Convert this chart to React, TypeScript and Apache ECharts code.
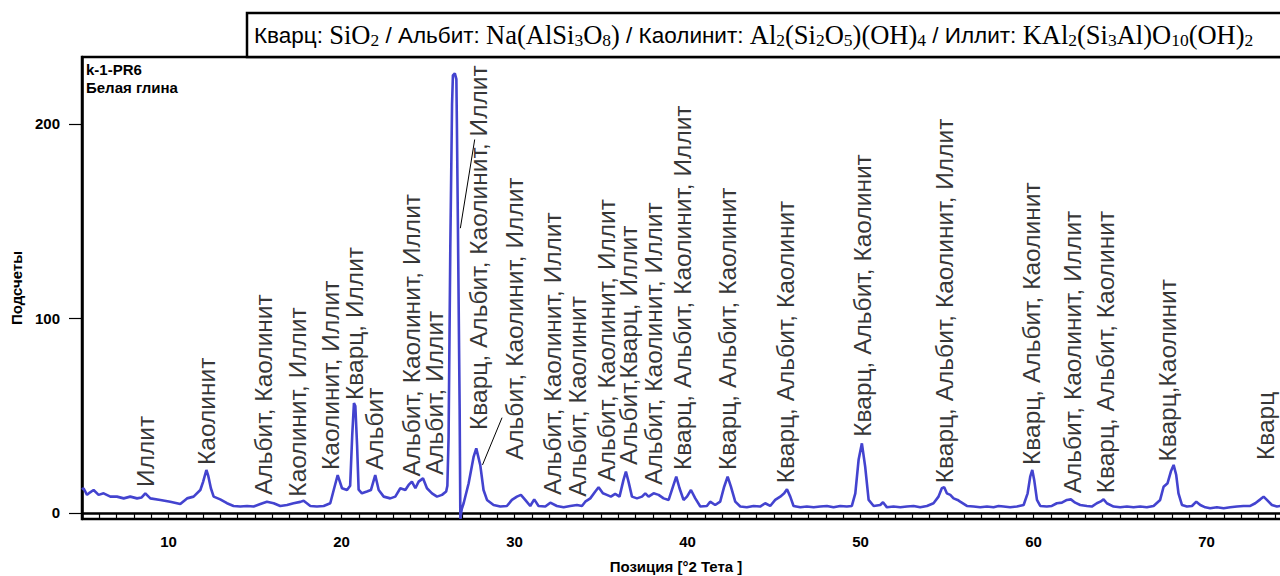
import React, { useEffect, useRef } from "react";
import * as echarts from "echarts";

// Diffractogram: position (°2θ) and counts
const twoTheta = [
  5.0, 5.09, 5.29, 5.45, 5.67, 5.96, 6.25, 6.64, 7.02, 7.41, 7.79, 8.18, 8.45, 8.66, 8.95, 9.53, 10.1, 10.68,
  11.07, 11.45, 11.84, 12.0, 12.19, 12.3, 12.45, 12.61, 12.99, 13.38, 13.76, 14.15, 14.54, 14.92, 15.31, 15.69,
  16.08, 16.46, 16.85, 17.23, 17.62, 17.81, 18.2, 18.58, 18.97, 19.35, 19.55, 19.78, 20.03, 20.32, 20.5, 20.62,
  20.72, 20.8, 20.9, 20.99, 21.18, 21.47, 21.7, 21.95, 22.15, 22.44, 22.82, 23.11, 23.4, 23.69, 23.88, 24.07,
  24.27, 24.46, 24.71, 24.94, 25.23, 25.52, 25.81, 26.05, 26.12, 26.19, 26.29, 26.39, 26.44, 26.55, 26.64, 26.67,
  26.73, 26.83, 26.87, 26.95, 27.06, 27.35, 27.64, 27.79, 28.02, 28.21, 28.41, 28.79, 29.18, 29.56, 29.85, 30.14,
  30.37, 30.62, 30.91, 31.14, 31.39, 31.78, 32.07, 32.45, 32.84, 33.22, 33.61, 33.9, 34.09, 34.38, 34.67, 34.86,
  35.11, 35.34, 35.57, 35.82, 36.07, 36.3, 36.44, 36.59, 36.79, 37.08, 37.37, 37.56, 37.75, 38.04, 38.33, 38.62,
  38.91, 39.16, 39.35, 39.54, 39.77, 39.97, 40.2, 40.45, 40.74, 41.12, 41.31, 41.6, 41.89, 42.12, 42.32, 42.51,
  42.76, 43.05, 43.43, 43.82, 44.2, 44.49, 44.78, 45.07, 45.36, 45.59, 45.75, 45.94, 46.13, 46.52, 46.9, 47.29,
  47.67, 48.06, 48.44, 48.83, 49.21, 49.5, 49.7, 49.89, 50.08, 50.27, 50.47, 50.76, 51.14, 51.3, 51.53, 51.91,
  52.3, 52.68, 53.07, 53.45, 53.84, 54.22, 54.51, 54.7, 54.84, 54.99, 55.19, 55.38, 55.61, 55.76, 56.15, 56.54,
  56.92, 57.31, 57.69, 57.98, 58.27, 58.65, 59.04, 59.43, 59.66, 59.81, 59.93, 60.04, 60.2, 60.39, 60.77, 61.06,
  61.35, 61.64, 61.93, 62.16, 62.41, 62.7, 63.09, 63.37, 63.66, 63.86, 64.05, 64.24, 64.63, 65.01, 65.4, 65.78,
  66.17, 66.55, 66.94, 67.32, 67.52, 67.75, 67.94, 68.1, 68.25, 68.38, 68.58, 68.87, 69.16, 69.41, 69.64, 69.93,
  70.21, 70.6, 70.99, 71.37, 71.76, 72.14, 72.53, 72.82, 73.11, 73.3, 73.49, 73.78, 74.07, 74.26, 74.6, 75.0,
];
const counts = [
  12, 12.7, 9.3, 10.5, 11.8, 9.3, 10.1, 8.4, 8.4, 7.5, 8.4, 7.5, 8.0, 10.1, 7.5, 6.7, 5.8, 4.6,
  7.5, 8.4, 11.8, 16, 22.1, 19, 12.7, 8.4, 7.0, 5.0, 3.6, 3.3, 3.6, 3.3, 4.6, 5.8,
  5.0, 3.6, 4.1, 5.0, 5.7, 6.3, 3.6, 3.3, 3.6, 5.0, 11.8, 19.5, 12.7, 11.8, 14, 40,
  56.5, 55, 35, 12, 10.1, 11.0, 11.8, 19.5, 11.8, 8.4, 7.5, 8.4, 12.7, 11.8, 14.4, 16.1,
  12.7, 16.1, 17.8, 12.7, 10.1, 8.4, 9.3, 11.0, 14, 39, 137, 210, 225, 226, 223, 200,
  147, 53, -3, 2, 5.0, 15.3, 29.0, 33.2, 24.7, 11.8, 6.7, 4.1, 3.3, 3.6, 6.7, 8.4,
  9.3, 6.7, 3.6, 7.0, 3.6, 3.3, 5.3, 3.6, 2.9, 3.6, 4.1, 3.6, 5.8, 7.5, 11.0, 13.2,
  10.1, 9.3, 8.4, 9.8, 8.4, 17.0, 21.3, 16.1, 8.4, 7.5, 8.4, 10.1, 8.4, 10.1, 9.3, 7.5,
  6.7, 13.5, 18.7, 12.7, 6.7, 8.4, 11.8, 7.5, 3.3, 3.6, 5.8, 4.1, 5.8, 13.5, 18.7, 13.5,
  5.8, 3.3, 2.9, 3.6, 3.3, 5.0, 3.6, 6.7, 8.4, 10.1, 12.2, 8.4, 3.6, 2.9, 3.3, 2.9,
  3.3, 3.6, 2.9, 3.6, 3.3, 3.6, 10.1, 27.3, 35.8, 23.8, 6.7, 3.6, 4.1, 5.5, 2.9, 3.3,
  2.9, 3.3, 3.6, 2.9, 3.6, 5.0, 8.4, 12.7, 13.2, 10.1, 9.3, 7.5, 6.7, 5.8, 3.6, 3.3,
  2.9, 3.3, 2.9, 3.6, 3.3, 2.9, 3.3, 4.1, 10.1, 18.7, 22.1, 17.0, 6.7, 3.6, 3.3, 3.6,
  5.0, 5.3, 6.7, 7.0, 5.3, 4.1, 3.6, 3.3, 5.0, 5.8, 7.0, 5.0, 3.3, 2.9, 3.3, 2.9,
  3.3, 2.9, 3.6, 6.7, 13.5, 15.3, 21.3, 24.7, 19.5, 10.1, 4.1, 3.3, 3.6, 5.8, 4.1, 2.9,
  2.4, 2.9, 2.4, 2.9, 3.3, 3.6, 3.6, 5.0, 7.0, 8.4, 6.7, 4.1, 3.3, 3.6, 3.3, 3.5,
];

// Peak annotations: position (°2θ), counts where the text starts, text
const labelPositions = [
  8.66, 12.19, 15.5, 17.43, 19.35, 20.74, 21.91, 24.02, 25.36, 27.92, 29.99, 32.2, 33.65,
  35.29, 36.6, 38.04, 39.72, 42.32, 45.69, 50.12, 54.84, 59.91, 62.23, 64.15, 67.75, 73.4,
];
const labelBases = [
  13.4, 24.7, 9.3, 8.4, 22.1, 58.1, 22.1, 18.7, 19.5, 42.7, 27.2, 9.3, 8.4,
  16.1, 24.7, 14.4, 22.1, 22.1, 15.3, 39.2, 15.3, 24.7, 10.1, 10.1, 26.4, 27.2,
];
const labelTexts = [
  "Иллит",
  "Каолинит",
  "Альбит, Каолинит",
  "Каолинит, Иллит",
  "Каолинит, Иллит",
  "Кварц, Иллит",
  "Альбит",
  "Альбит, Каолинит, Иллит",
  "Альбит, Иллит",
  "Кварц, Альбит, Каолинит, Иллит",
  "Альбит, Каолинит, Иллит",
  "Альбит, Каолинит, Иллит",
  "Альбит, Каолинит",
  "Альбит, Каолинит, Иллит",
  "Альбит,Кварц, Иллит",
  "Альбит, Каолинит, Иллит",
  "Кварц, Альбит, Каолинит, Иллит",
  "Кварц, Альбит, Каолинит",
  "Кварц, Альбит, Каолинит",
  "Кварц, Альбит, Каолинит",
  "Кварц, Альбит, Каолинит, Иллит",
  "Кварц, Альбит, Каолинит",
  "Альбит, Каолинит, Иллит",
  "Кварц, Альбит, Каолинит",
  "Кварц,Каолинит",
  "Кварц",
];

// Leader lines (from peak to label), in data coordinates
const leaderA = [[26.87, 146.4], [27.7, 192]];
const leaderB = [[28.15, 24.7], [29.28, 49]];

const xTickLabels = [10, 20, 30, 40, 50, 60, 70];
const yTickLabels = [0, 100, 200];

const SANS = "'Liberation Sans', Arial, sans-serif";
const SERIF = "'Liberation Serif', 'Times New Roman', serif";

export default function App() {
  const ref = useRef<HTMLDivElement>(null);

  useEffect(() => {
    if (!ref.current) return;
    const chart = echarts.init(ref.current, undefined, { renderer: "svg" });

    const legendText =
      "{n|Кварц: }{f|SiO}{s|2}{n| / Альбит: }{f|Na(AlSi}{s|3}{f|O}{s|8}{f|)}" +
      "{n| / Каолинит: }{f|Al}{s|2}{f|(Si}{s|2}{f|O}{s|5}{f|)(OH)}{s|4}" +
      "{n| / Иллит: }{f|KAl}{s|2}{f|(Si}{s|3}{f|Al)O}{s|10}{f|(OH)}{s|2}";

    chart.setOption({
      animation: false,
      backgroundColor: "#ffffff",
      grid: {
        left: 82,
        top: 57,
        right: 7,
        bottom: 57,
        show: true,
        borderColor: "#000",
        borderWidth: 2.5,
        backgroundColor: "transparent",
      },
      xAxis: {
        type: "value",
        min: 5,
        max: 75,
        interval: 1,
        axisLine: { show: true, lineStyle: { color: "#000", width: 2.5 } },
        axisTick: { show: true, inside: false, length: 7, lineStyle: { color: "#000", width: 1.2 } },
        axisLabel: {
          interval: 0,
          formatter: (v: number) =>
            Math.abs(v - Math.round(v)) < 1e-6 && xTickLabels.includes(Math.round(v)) ? String(Math.round(v)) : "",
          color: "#000",
          fontWeight: "bold",
          fontSize: 15,
          fontFamily: SANS,
          margin: 15,
          showMinLabel: true,
          showMaxLabel: true,
        },
        splitLine: { show: false },
      },
      yAxis: {
        type: "value",
        min: -3.1,
        max: 234.4,
        name: "Подсчеты",
        nameLocation: "middle",
        nameRotate: 90,
        nameGap: 58,
        nameTextStyle: { color: "#000", fontWeight: "bold", fontSize: 15, fontFamily: SANS },
        axisLine: { show: true, lineStyle: { color: "#000", width: 2.5 } },
        axisTick: {
          show: true,
          inside: false,
          length: 13,
          customValues: yTickLabels,
          lineStyle: { color: "#000", width: 1.2 },
        },
        axisLabel: {
          customValues: yTickLabels,
          color: "#000",
          fontWeight: "bold",
          fontSize: 15,
          fontFamily: SANS,
          margin: 22,
        },
        splitLine: { show: false },
      },
      series: [
        {
          type: "line",
          data: twoTheta.map((x, i) => [x, counts[i]]),
          showSymbol: false,
          symbol: "none",
          lineStyle: { color: "#4343cf", width: 2.6 },
          z: 2,
          clip: true,
        },
        {
          type: "line",
          data: leaderA,
          symbol: "none",
          lineStyle: { color: "#000", width: 1 },
          z: 3,
        },
        {
          type: "line",
          data: leaderB,
          symbol: "none",
          lineStyle: { color: "#000", width: 1 },
          z: 3,
        },
        {
          type: "scatter",
          symbolSize: 0,
          data: labelPositions.map((x, i) => [x, labelBases[i]]),
          z: 4,
          label: {
            show: true,
            position: "inside",
            rotate: 90,
            align: "left",
            verticalAlign: "middle",
            formatter: (p: any) => labelTexts[p.dataIndex],
            color: "#000",
            fontSize: 24.5,
            fontFamily: SANS,
          },
        },
      ],
      graphic: [
        {
          type: "rect",
          shape: { x: 247, y: 13, width: 1100, height: 44 },
          style: { fill: "#fff", stroke: "#000", lineWidth: 2.5 },
          z: 10,
        },
        {
          type: "text",
          x: 254,
          y: 35,
          z: 11,
          style: {
            text: legendText,
            verticalAlign: "middle",
            align: "left",
            rich: {
              n: { fontFamily: SANS, fontSize: 22.5, lineHeight: 28, fill: "#000" },
              f: { fontFamily: SERIF, fontSize: 26.5, lineHeight: 28, fill: "#000" },
              s: { fontFamily: SERIF, fontSize: 17.5, lineHeight: 17, verticalAlign: "bottom", fill: "#000" },
            },
          },
        },
        {
          type: "text",
          x: 86,
          y: 60,
          z: 11,
          style: {
            text: "k-1-PR6\nБелая глина",
            fontFamily: SANS,
            fontWeight: "bold",
            fontSize: 15,
            lineHeight: 18,
            fill: "#000",
            align: "left",
            verticalAlign: "top",
          },
        },
        {
          type: "text",
          x: 676,
          y: 566,
          z: 11,
          style: {
            text: "Позиция [°2 Тета ]",
            fontFamily: SANS,
            fontWeight: "bold",
            fontSize: 15,
            fill: "#000",
            align: "center",
            verticalAlign: "middle",
          },
        },
      ],
    });

    return () => chart.dispose();
  }, []);

  return (
    <div
      style={{ position: "fixed", left: 0, top: 0, width: 1280, height: 576, overflow: "hidden", background: "#fff" }}
    >
      <div ref={ref} style={{ width: 1300, height: 576 }} />
    </div>
  );
}
